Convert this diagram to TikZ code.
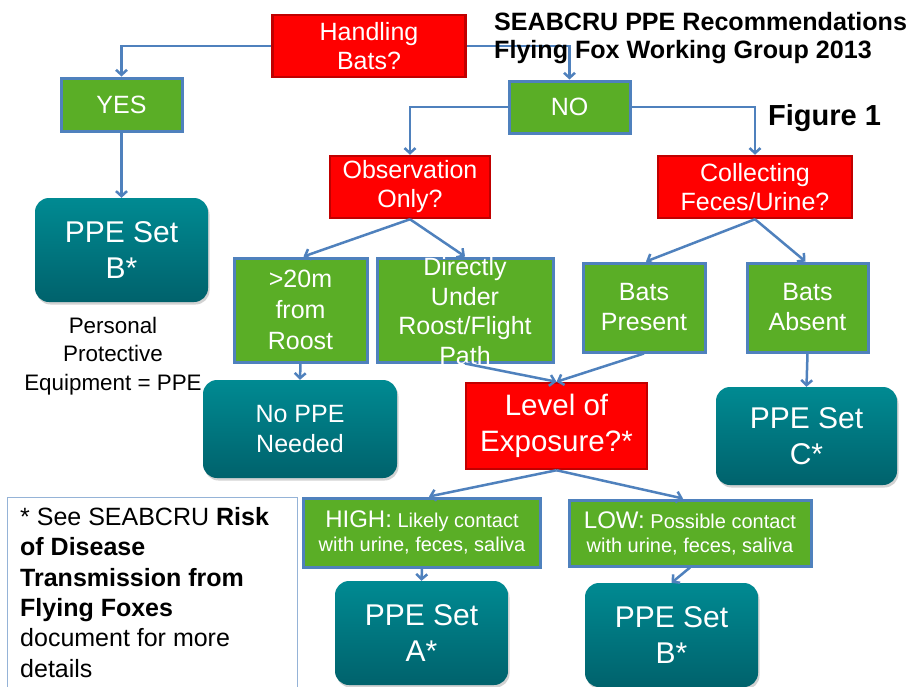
\documentclass[tikz,border=0pt]{standalone}
\usepackage{fontspec}
\setmainfont{Liberation Sans}
\usetikzlibrary{arrows.meta,shadows}
\definecolor{lineblue}{RGB}{79,129,189}
\definecolor{boxred}{RGB}{255,0,0}
\definecolor{darkred}{RGB}{192,0,0}
\definecolor{boxgreen}{RGB}{90,174,38}
\definecolor{tealtop}{RGB}{0,138,146}
\definecolor{tealbot}{RGB}{0,98,108}
\definecolor{notebd}{RGB}{149,179,215}
\begin{document}
\begin{tikzpicture}[x=1pt,y=-1pt,
  redbox/.style={draw=darkred, line width=2.5pt, fill=boxred, text=white, align=center,
    font=\fontsize{25}{29}\selectfont, inner sep=0pt},
  greenbox/.style={draw=lineblue, line width=3pt, fill=boxgreen, text=white, align=center,
    font=\fontsize{25}{30}\selectfont, inner sep=0pt},
  tealbox/.style={rounded corners=14pt, top color=tealtop, bottom color=tealbot, draw=none,
    text=white, align=center, font=\fontsize{30}{36}\selectfont, inner sep=0pt,
    drop shadow={opacity=0.35, shadow xshift=1.5pt, shadow yshift=-2.5pt}},
  wtext/.style={text=white, align=center, font=\fontsize{25}{29.5}\selectfont, inner sep=0pt},
  titletext/.style={anchor=base west, inner sep=0pt, font=\fontsize{25.1}{29}\selectfont\bfseries},
  conn/.style={draw=lineblue, line width=2.5pt, -{Straight Barb[length=5pt,width=11pt]}}]
\useasboundingbox[fill=white] (0,0) rectangle (911,686);

% boxes
\node[redbox, minimum width=193pt, minimum height=62pt] (hand) at (369,46) {Handling\\Bats?};
\node[greenbox, minimum width=121pt, minimum height=53pt] (yes) at (121.5,104.5) {YES};
\node[greenbox, minimum width=121pt, minimum height=52pt] (no) at (569.5,107) {NO};
\node[redbox, minimum width=160pt, minimum height=62pt] (obs) at (410,187) {Observation\\Only?};
\node[redbox, minimum width=194pt, minimum height=62pt] (col) at (755,187) {Collecting\\Feces/Urine?};
\node[tealbox, minimum width=173pt, minimum height=104pt] (ppeB1) at (121.5,250) {PPE Set\\B*};
\node[align=center, inner sep=0pt, font=\fontsize{22.4}{28.5}\selectfont] (ppedef) at (113,356) {Personal\\Protective\\Equipment = PPE};
\node[greenbox, font=\fontsize{25}{31}\selectfont, minimum width=133pt, minimum height=104pt] (far) at (300.5,310) {>20m\\from\\Roost};
\node[greenbox, minimum width=176pt, minimum height=104pt] (dir) at (465,310) {};
\node[wtext] (dirtext) at (465,311) {Directly\\Under\\Roost/Flight\\Path};
\node[greenbox, minimum width=122pt, minimum height=89pt] (bp) at (644,307.5) {Bats\\Present};
\node[greenbox, minimum width=121pt, minimum height=89pt] (ba) at (807.5,307.5) {Bats\\Absent};
\node[tealbox, font=\fontsize{25}{30}\selectfont, minimum width=194pt, minimum height=98pt] (noppe) at (300,429) {No PPE\\Needed};
\node[redbox, font=\fontsize{29.5}{36}\selectfont, minimum width=181pt, minimum height=86pt] (lvl) at (556.5,426) {Level of\\Exposure?*};
\node[tealbox, minimum width=181pt, minimum height=98pt] (ppeC) at (806.5,436) {PPE Set\\C*};

\draw[notebd, line width=1pt] (7,497) rectangle (297,695);
\node[anchor=north west, align=left, inner sep=0pt, font=\fontsize{25}{30.4}\selectfont] (note) at (20,507)
  {* See SEABCRU \textbf{Risk}\\\textbf{of Disease}\\\textbf{Transmission from}\\\textbf{Flying Foxes}\\document for more\\details};

\node[greenbox, font=\fontsize{20}{24}\selectfont, minimum width=237pt, minimum height=69pt] (high) at (422,532.5)
  {{\fontsize{24}{24}\selectfont HIGH:} Likely contact\\with urine, feces, saliva};
\node[greenbox, font=\fontsize{20}{24}\selectfont, minimum width=242pt, minimum height=66pt] (low) at (690,533)
  {{\fontsize{24}{24}\selectfont LOW:} Possible contact\\with urine, feces, saliva};
\node[tealbox, minimum width=173pt, minimum height=104pt] (ppeA) at (421.5,633) {PPE Set\\A*};
\node[tealbox, minimum width=173pt, minimum height=104pt] (ppeB2) at (671.5,635) {PPE Set\\B*};

% connectors
\draw[conn] (hand.west) -| (yes.north);
\draw[conn] (hand.east) -| (no.north);
\draw[conn] (yes.south) -- (ppeB1.north);
\draw[conn] (no.west) -| (obs.north);
\draw[conn] (no.east) -| (col.north);
\draw[conn] (obs.south) -- ([xshift=3pt]far.north);
\draw[conn] (obs.south) -- (dir.north);
\draw[conn] (col.south) -- ([xshift=2pt]bp.north);
\draw[conn] (col.south) -- ([xshift=-2pt]ba.north);
\draw[conn] (far.south) -- (noppe.north);
\draw[conn] (dir.south) -- (lvl.north);
\draw[conn] (bp.south) -- (lvl.north);
\draw[conn] (ba.south) -- (ppeC.north);
\draw[conn] (lvl.south) -- ([xshift=7pt]high.north);
\draw[conn] (lvl.south) -- ([xshift=-7pt]low.north);
\draw[conn] (high.south) -- (ppeA.north);
\draw[conn] (low.south) -- (ppeB2.north);

% title (drawn over the connector)
\node[titletext] (title1) at (494,30) {SEABCRU PPE Recommendations};
\node[titletext] (title2) at (494,58) {Flying Fox Working Group 2013};
\node[anchor=base west, inner sep=0pt, font=\fontsize{29}{34}\selectfont\bfseries] (fig) at (768,125) {Figure 1};
\end{tikzpicture}
\end{document}
